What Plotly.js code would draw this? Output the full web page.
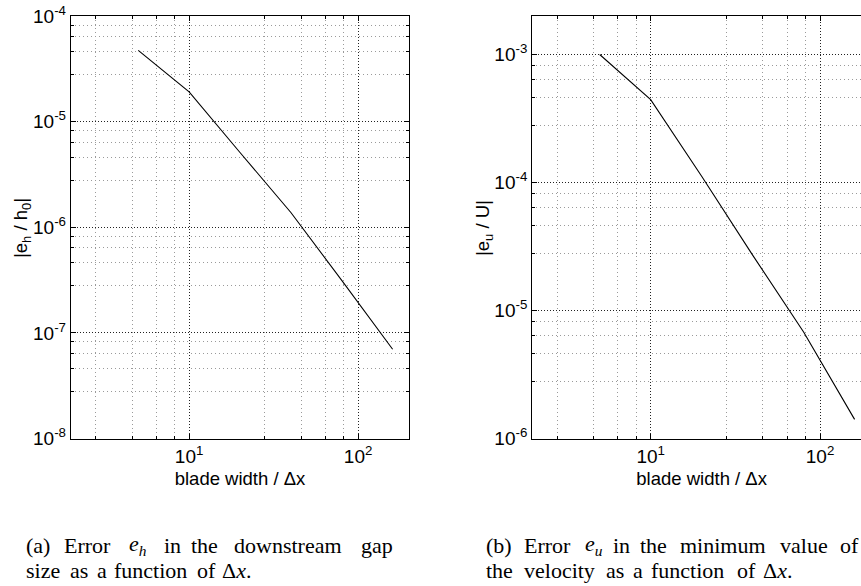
<!DOCTYPE html>
<html>
<head>
<meta charset="utf-8">
<script src="https://cdn.plot.ly/plotly-3.0.1.min.js"></script>
<style>
  html, body { margin: 0; padding: 0; overflow: hidden; background: #fff; }
  #chart { width: 871px; height: 586px; }
</style>
</head>
<body>
<div id="chart"></div>
<script>
// Grid resolution study: blade width measured in grid cells
const bladeWidth = [5, 10, 20, 40, 80, 160];
// (a) relative error of the downstream gap size |e_h / h_0|
const errGap = [4.73e-5, 1.91e-5, 5.1e-6, 1.38e-6, 3.14e-7, 7.0e-8];
// (b) relative error of the minimum velocity |e_u / U|
const errVel = [1.0e-3, 4.44e-4, 1.12e-4, 2.71e-5, 6.8e-6, 1.41e-6];

// Tick labels
const xTickVals = [10, 100];
const xTickText = ['10<sup>1</sup>', '10<sup>2</sup>'];
const yTickValsA = [1e-8, 1e-7, 1e-6, 1e-5, 1e-4];
const yTickTextA = ['10<sup>-8</sup>', '10<sup>-7</sup>', '10<sup>-6</sup>', '10<sup>-5</sup>', '10<sup>-4</sup>'];
const yTickValsB = [1e-6, 1e-5, 1e-4, 1e-3];
const yTickTextB = ['10<sup>-6</sup>', '10<sup>-5</sup>', '10<sup>-4</sup>', '10<sup>-3</sup>'];

const W = 871, H = 586;
const px = x => x / W;
const py = y => 1 - y / H;

// minor grid lines sit at 2.8, 4.6, 6.4 and 8.2 inside every decade
function minorLines(lo, hi) {
  const out = [];
  for (let k = lo; k <= hi; k++) {
    [2.8, 4.6, 6.4, 8.2].forEach(m => out.push(m * Math.pow(10, k)));
  }
  return out;
}

const sans = 'Liberation Sans, Arial, Helvetica, sans-serif';
const serif = 'Liberation Serif, Times New Roman, serif';
const tickFont = { family: sans, size: 19, color: '#000' };

function axisStyle(extra) {
  return Object.assign({
    type: 'log',
    showline: true, linecolor: '#000', linewidth: 1.2, mirror: 'ticks',
    ticks: 'inside', ticklen: 5, tickcolor: '#000', tickwidth: 1,
    tickmode: 'array',
    showgrid: true, gridcolor: '#222', gridwidth: 1, griddash: '1px,2px',
    zeroline: false, tickfont: tickFont,
    fixedrange: true
  }, extra);
}

function minorStyle(vals) {
  return {
    tickmode: 'array', tickvals: vals,
    ticks: 'inside', ticklen: 3, tickcolor: '#000',
    showgrid: true, gridcolor: '#9a9a9a', gridwidth: 1, griddash: '1px,3px'
  };
}

const xRange = [Math.log10(2), Math.log10(200)];
const yDomain = [1 - 438.5 / H, 1 - 16 / H];

const traces = [
  { x: bladeWidth, y: errGap, xaxis: 'x', yaxis: 'y', mode: 'lines',
    line: { color: '#000', width: 1.1 }, hoverinfo: 'x+y' },
  { x: bladeWidth, y: errVel, xaxis: 'x2', yaxis: 'y2', mode: 'lines',
    line: { color: '#000', width: 1.1 }, hoverinfo: 'x+y' }
];

const xTitleFont = { family: sans, size: 18.5, color: '#000' };

const layout = {
  width: W, height: H,
  margin: { l: 0, r: 0, t: 0, b: 0 },
  paper_bgcolor: '#fff', plot_bgcolor: '#fff',
  showlegend: false,
  xaxis: axisStyle({
    domain: [px(71), px(409)], anchor: 'y', range: xRange,
    tickvals: xTickVals, ticktext: xTickText,
    minor: minorStyle(minorLines(0, 2)),
    title: { text: 'blade width / \u0394x', font: xTitleFont, standoff: 6 }
  }),
  yaxis: axisStyle({
    domain: yDomain, anchor: 'x', range: [-8, -4],
    tickvals: yTickValsA, ticktext: yTickTextA,
    minor: minorStyle(minorLines(-8, -5))
  }),
  xaxis2: axisStyle({
    domain: [px(532.3), 1], anchor: 'y2', range: xRange,
    tickvals: xTickVals, ticktext: xTickText,
    minor: minorStyle(minorLines(0, 2)),
    title: { text: 'blade width / \u0394x', font: xTitleFont, standoff: 6 }
  }),
  yaxis2: axisStyle({
    domain: yDomain, anchor: 'x2', range: [-6, Math.log10(2e-3)],
    tickvals: yTickValsB, ticktext: yTickTextB,
    minor: minorStyle(minorLines(-6, -3))
  }),
  annotations: []
};

const ann = layout.annotations;
// rotated y-axis titles
ann.push({ xref: 'paper', yref: 'paper', x: px(22), y: py(228), text: '|e<sub>h</sub> / h<sub>0</sub>|',
  textangle: -90, showarrow: false, font: { family: sans, size: 18.5, color: '#000' },
  xanchor: 'center', yanchor: 'middle' });
ann.push({ xref: 'paper', yref: 'paper', x: px(484), y: py(228), text: '|e<sub>u</sub> / U|',
  textangle: -90, showarrow: false, font: { family: sans, size: 18.5, color: '#000' },
  xanchor: 'center', yanchor: 'middle' });

// sub-figure captions, set word by word on justified lines
const capFont = { family: serif, size: 22, color: '#000' };
function capLine(y, words) {
  words.forEach(w => ann.push({
    xref: 'paper', yref: 'paper', x: px(w[0]), y: py(y), text: w[1], showarrow: false,
    font: capFont, xanchor: 'left', yanchor: 'middle', borderpad: 0
  }));
}
capLine(545, [
  [25, '(a)'], [63.3, 'Error'], [128.3, '<i>e</i><sub><i>h</i></sub>'], [163.3, 'in'],
  [190, 'the'], [233.3, 'downstream'], [360, 'gap']
]);
capLine(570, [
  [25, 'size'], [69, 'as'], [96, 'a'], [113, 'function'], [196, 'of'], [221, '\u0394<i>x</i>.']
]);
capLine(545, [
  [485, '(b)'], [523, 'Error'], [584, '<i>e</i><sub><i>u</i></sub>'], [612, 'in'],
  [639, 'the'], [678.5, 'minimum'], [779, 'value'], [839, 'of']
]);
capLine(570, [
  [485, 'the'], [523, 'velocity'], [605, 'as'], [632, 'a'], [650, 'function'],
  [736, 'of'], [761.5, '\u0394<i>x</i>.']
]);

Plotly.newPlot('chart', traces, layout, { staticPlot: true, displayModeBar: false });
</script>
</body>
</html>
